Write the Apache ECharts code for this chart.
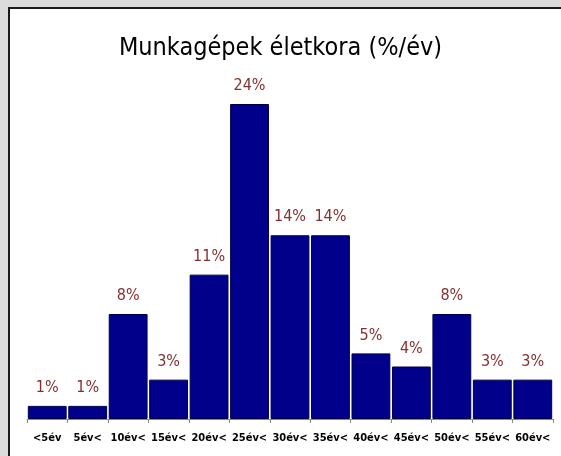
<!DOCTYPE html>
<html>
<head>
<meta charset="utf-8">
<script src="https://cdn.jsdelivr.net/npm/echarts@6/dist/echarts.min.js"></script>
<style>
html,body{margin:0;padding:0;background:#dcdcdc;}
#c{width:561px;height:456px;}
</style>
</head>
<body>
<div id="c"></div>
<script>
const categories = ['<5év','5év<','10év<','15év<','20év<','25év<','30év<','35év<','40év<','45év<','50év<','55év<','60év<'];
const values = [1,1,8,3,11,24,14,14,5,4,8,3,3];
const titleText = 'Munkagépek életkora (%/év)';

const chart = echarts.init(document.getElementById('c'));
chart.setOption({
  backgroundColor: '#dcdcdc',
  animation: false,
  graphic: [{
    type: 'rect',
    z: -10,
    shape: {x: 9, y: 8, width: 600, height: 500},
    style: {fill: '#ffffff', stroke: '#1a1a1a', lineWidth: 2}
  }],
  title: {
    text: titleText,
    left: 'center',
    top: 31,
    textStyle: {fontFamily: '"DejaVu Sans Condensed", sans-serif', fontSize: 25, fontWeight: 'normal', color: '#000'}
  },
  grid: {left: 27, right: 8, top: 104, bottom: 37},
  xAxis: {
    type: 'category',
    data: categories,
    axisLine: {lineStyle: {color: '#888', width: 1}},
    axisTick: {show: true, length: 4, lineStyle: {color: '#888'}},
    axisLabel: {
      interval: 0,
      margin: 14,
      fontFamily: '"DejaVu Sans Condensed", sans-serif',
      fontWeight: 'bold',
      fontSize: 11,
      color: '#000'
    }
  },
  yAxis: {
    type: 'value',
    min: 0,
    max: 24,
    show: false,
    splitLine: {show: false}
  },
  series: [{
    type: 'bar',
    data: values,
    barCategoryGap: '4%',
    itemStyle: {color: '#00008b', borderColor: '#00004a', borderWidth: 1},
    label: {
      show: true,
      position: 'top',
      distance: 10,
      formatter: '{c}%',
      fontFamily: '"DejaVu Sans Condensed", sans-serif',
      fontSize: 16,
      color: '#843030'
    }
  }]
});
</script>
</body>
</html>
